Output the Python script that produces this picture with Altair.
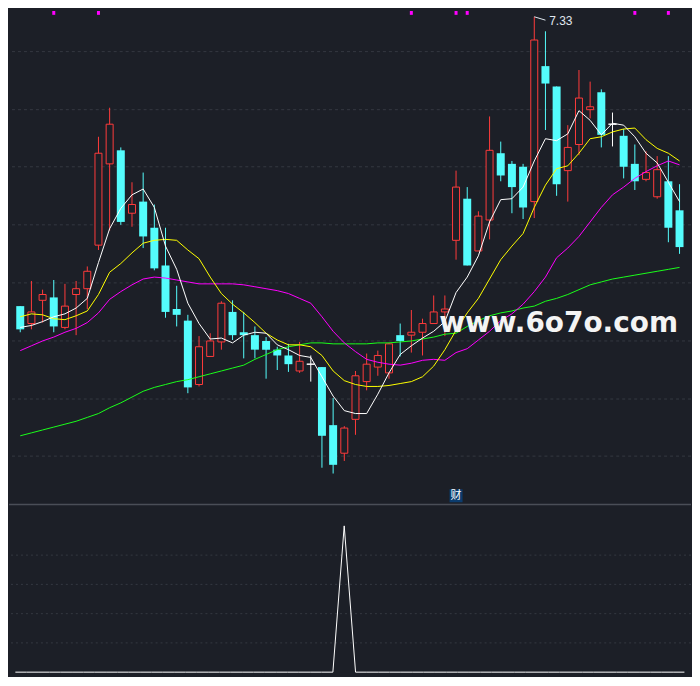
import altair as alt
import numpy as np
import pandas as pd

# ---------------- data ----------------
idx = list(range(1, 61))
open_ = [4.34, 4.16, 4.40, 4.43, 4.12, 4.46, 4.52, 4.97, 5.81, 5.95,
         5.30, 5.42, 5.15, 4.76, 4.31, 4.19, 3.53, 3.82, 3.97, 4.28,
         4.07, 4.04, 3.98, 3.89, 3.83, 3.67, 3.74, 3.71, 3.11, 2.82,
         3.17, 3.56, 3.71, 3.65, 4.04, 4.04, 4.07, 4.16, 4.28, 5.02,
         5.45, 4.91, 5.23, 5.92, 5.81, 5.78, 5.42, 6.82, 6.61, 5.74,
         6.01, 6.37, 6.55, 6.22, 6.10, 5.81, 5.65, 5.47, 5.63, 5.33]
high = [4.34, 4.60, 4.51, 4.61, 4.57, 4.60, 4.75, 6.09, 6.39, 5.98,
        5.62, 5.72, 5.39, 5.15, 4.55, 4.25, 4.03, 4.06, 4.39, 4.40,
        4.28, 4.13, 4.02, 3.92, 3.95, 3.97, 3.83, 3.71, 3.39, 3.10,
        3.67, 3.85, 3.88, 3.96, 4.16, 4.30, 4.21, 4.45, 4.45, 5.74,
        5.57, 5.32, 6.30, 6.04, 5.84, 5.81, 7.33, 7.18, 6.61, 6.21,
        6.78, 6.66, 6.58, 6.34, 6.17, 6.01, 5.94, 5.89, 5.89, 5.60]
low = [4.07, 4.10, 4.17, 4.07, 4.10, 4.04, 4.31, 4.92, 5.12, 5.18,
       5.16, 4.94, 4.71, 4.22, 4.13, 3.44, 3.51, 3.82, 3.89, 3.99,
       3.80, 3.80, 3.59, 3.68, 3.66, 3.65, 3.56, 2.67, 2.61, 2.74,
       3.01, 3.47, 3.62, 3.59, 3.82, 3.86, 3.83, 4.16, 4.03, 4.82,
       4.76, 4.91, 5.03, 5.63, 5.30, 5.24, 5.25, 6.16, 5.48, 5.42,
       5.90, 6.28, 5.98, 5.99, 5.66, 5.54, 5.63, 5.45, 5.00, 4.88]
close = [4.10, 4.28, 4.46, 4.13, 4.34, 4.52, 4.70, 5.92, 6.22, 5.21,
         5.39, 5.06, 4.73, 4.28, 4.25, 3.50, 3.92, 3.98, 4.37, 4.04,
         4.04, 3.89, 3.89, 3.83, 3.74, 3.77, 3.74, 3.00, 2.70, 3.08,
         3.62, 3.74, 3.83, 3.95, 3.98, 4.07, 4.16, 4.28, 4.31, 5.57,
         4.76, 5.27, 5.95, 5.69, 5.57, 5.36, 7.09, 6.64, 5.60, 5.98,
         6.49, 6.40, 6.11, 6.22, 5.78, 5.63, 5.72, 5.75, 5.15, 4.95]

ma5 = [4.12, 4.14, 4.18, 4.23, 4.26, 4.32, 4.42, 4.79, 5.14, 5.35,
       5.49, 5.55, 5.36, 4.96, 4.72, 4.37, 4.16, 4.00, 4.01, 3.96,
       4.04, 4.07, 4.06, 3.94, 3.89, 3.83, 3.81, 3.61, 3.41, 3.26,
       3.23, 3.23, 3.43, 3.65, 3.84, 3.93, 4.01, 4.08, 4.18, 4.48,
       4.64, 4.86, 5.21, 5.44, 5.45, 5.57, 5.84, 6.07, 6.05, 6.12,
       6.36, 6.26, 6.11, 6.23, 6.21, 6.09, 5.92, 5.82, 5.62, 5.42]
ma10 = [4.23, 4.26, 4.25, 4.21, 4.20, 4.24, 4.29, 4.46, 4.69, 4.78,
        4.89, 4.99, 5.02, 5.03, 5.02, 4.92, 4.83, 4.64, 4.47, 4.36,
        4.27, 4.17, 4.06, 3.99, 3.94, 3.94, 3.92, 3.83, 3.67, 3.57,
        3.53, 3.51, 3.51, 3.52, 3.54, 3.56, 3.61, 3.72, 3.89, 4.09,
        4.27, 4.42, 4.62, 4.82, 4.96, 5.09, 5.36, 5.59, 5.76, 5.79,
        5.92, 6.07, 6.09, 6.14, 6.17, 6.18, 6.06, 5.97, 5.92, 5.84]
ma20 = [3.88, 3.93, 3.98, 4.02, 4.07, 4.11, 4.17, 4.27, 4.41, 4.49,
        4.56, 4.62, 4.64, 4.63, 4.61, 4.59, 4.57, 4.57, 4.57, 4.57,
        4.56, 4.54, 4.52, 4.50, 4.47, 4.42, 4.37, 4.23, 4.08, 3.96,
        3.87, 3.79, 3.76, 3.74, 3.73, 3.75, 3.78, 3.79, 3.78, 3.86,
        3.90, 3.99, 4.08, 4.19, 4.26, 4.36, 4.49, 4.64, 4.84, 4.94,
        5.06, 5.21, 5.36, 5.49, 5.57, 5.66, 5.73, 5.79, 5.84, 5.80]
ma60 = [3.00, 3.03, 3.06, 3.09, 3.12, 3.15, 3.19, 3.23, 3.29, 3.34,
        3.40, 3.46, 3.50, 3.53, 3.56, 3.58, 3.61, 3.64, 3.67, 3.70,
        3.73, 3.79, 3.84, 3.89, 3.92, 3.94, 3.96, 3.96, 3.95, 3.95,
        3.95, 3.95, 3.96, 3.96, 3.97, 3.98, 4.00, 4.02, 4.05, 4.06,
        4.13, 4.19, 4.24, 4.27, 4.29, 4.32, 4.34, 4.39, 4.42, 4.46,
        4.51, 4.56, 4.59, 4.62, 4.64, 4.66, 4.68, 4.70, 4.72, 4.74]

signal = [0] * 29 + [100] + [0] * 30          # lower-panel indicator
top_markers = [4, 8, 36, 40, 41, 56, 59]       # magenta marks on top edge
main_grid = [6.97, 6.37, 5.78, 5.18, 4.58, 3.98, 3.38, 2.79]
sub_grid = [20, 40, 60, 80]
peak_idx, peak_val, peak_label = 47, 7.33, "7.33"
cai_idx, cai_val, cai_label = 40, 2.38, "财"
wm_idx, wm_val, wm_text = 38.5, 4.07, "www.6o7o.com"

# ---------------- style ----------------
BG = "#1c1f27"
RED = "#ff3b3b"
CYAN = "#54fcfc"
GRID = "#343841"
W, H_MAIN, H_SUB = 684, 494, 172
X_DOM = [0.44, 60.58]
Y_DOM = [2.30, 7.39]
S_DOM = [-2.65, 114.6]

df = pd.DataFrame(dict(idx=idx, open=open_, high=high, low=low, close=close,
                       ma5=ma5, ma10=ma10, ma20=ma20, ma60=ma60, signal=signal))
df["dir"] = np.where(df.close > df.open, "up", np.where(df.close < df.open, "down", "flat"))
df["top"] = df[["open", "close"]].max(axis=1)
df["bot"] = df[["open", "close"]].min(axis=1)

xs = alt.Scale(domain=X_DOM, nice=False, zero=False)
ys = alt.Scale(domain=Y_DOM, nice=False, zero=False)
X = alt.X("idx:Q", scale=xs, axis=None)

base = alt.Chart(df)

grid_main = alt.Chart(pd.DataFrame({"g": main_grid})).mark_rule(
    color=GRID, strokeDash=[3, 3], strokeWidth=1
).encode(y=alt.Y("g:Q", scale=ys, axis=None))

wick_col = alt.Color("dir:N", scale=alt.Scale(domain=["up", "down", "flat"],
                                              range=[RED, CYAN, "#ffffff"]), legend=None)
wicks = base.mark_rule(strokeWidth=1).encode(
    x=X, y=alt.Y("high:Q", scale=ys, axis=None), y2="low:Q", color=wick_col)

down_bodies = base.transform_filter(alt.datum.dir == "down").mark_bar(
    size=8, color=CYAN).encode(x=X, y=alt.Y("top:Q", scale=ys, axis=None), y2="bot:Q")
up_bodies = base.transform_filter(alt.datum.dir == "up").mark_bar(
    size=7, fill=BG, stroke=RED, strokeWidth=1).encode(
    x=X, y=alt.Y("top:Q", scale=ys, axis=None), y2="bot:Q")
flat_bodies = base.transform_filter(alt.datum.dir == "flat").mark_bar(
    size=8, fill="#ffffff", stroke="#ffffff", strokeWidth=1).encode(
    x=X, y=alt.Y("top:Q", scale=ys, axis=None), y2="bot:Q")


def ma_line(field, color):
    return base.mark_line(color=color, strokeWidth=1).encode(
        x=X, y=alt.Y(f"{field}:Q", scale=ys, axis=None))


lines = [ma_line("ma60", "#1aff1a"), ma_line("ma20", "#ff00ff"),
         ma_line("ma10", "#ffff00"), ma_line("ma5", "#ffffff")]

markers = alt.Chart(pd.DataFrame({"idx": top_markers, "a": Y_DOM[1], "b": Y_DOM[1] - 0.04})).mark_rule(
    color="#ff00ff", strokeWidth=3).encode(x=X, y=alt.Y("a:Q", scale=ys, axis=None), y2="b:Q")

ann = pd.DataFrame({"idx": [peak_idx], "v": [peak_val], "idx2": [peak_idx + 1.0],
                    "v2": [peak_val - 0.035], "t": [peak_label]})
leader = alt.Chart(ann).mark_rule(color="#e0e8f0", strokeWidth=1).encode(
    x=X, x2="idx2:Q", y=alt.Y("v:Q", scale=ys, axis=None), y2="v2:Q")
peak_text = alt.Chart(ann).mark_text(
    align="left", baseline="middle", dx=15, dy=4, fontSize=12,
    font="Liberation Sans", color="#e0e8f0").encode(
    x=X, y=alt.Y("v:Q", scale=ys, axis=None), text="t:N")

cai = pd.DataFrame({"idx": [cai_idx], "v": [cai_val], "t": [cai_label]})
cai_box = alt.Chart(cai).mark_square(size=170, color="#0b3c6e", opacity=1).encode(
    x=X, y=alt.Y("v:Q", scale=ys, axis=None))
cai_text = alt.Chart(cai).mark_text(
    fontSize=11, font="Noto Sans CJK SC", color="#ffffff", baseline="middle", align="center").encode(
    x=X, y=alt.Y("v:Q", scale=ys, axis=None), text="t:N")

wm = pd.DataFrame({"idx": [wm_idx], "v": [wm_val], "t": [wm_text]})
watermark = alt.Chart(wm).mark_text(
    align="left", baseline="alphabetic", fontSize=28, fontWeight="bold",
    font="DejaVu Sans", color="#f4f4f4").encode(
    x=X, y=alt.Y("v:Q", scale=ys, axis=None), text="t:N")

main = alt.layer(grid_main, wicks, down_bodies, up_bodies, flat_bodies, *lines,
                 markers, leader, peak_text, cai_box, cai_text, watermark).properties(
    width=W, height=H_MAIN)

# ---------------- lower panel ----------------
ss = alt.Scale(domain=S_DOM, nice=False, zero=False)
grid_sub = alt.Chart(pd.DataFrame({"g": sub_grid})).mark_rule(
    color=GRID, strokeDash=[2, 3], strokeWidth=1).encode(y=alt.Y("g:Q", scale=ss, axis=None))
sep = alt.Chart(pd.DataFrame({"s": [S_DOM[1]]})).mark_rule(
    color="#4a4e57", strokeWidth=1.5).encode(y=alt.Y("s:Q", scale=ss, axis=None))
sig_line = base.mark_line(color="#ffffff", strokeWidth=1).encode(
    x=X, y=alt.Y("signal:Q", scale=ss, axis=None))
sub = alt.layer(grid_sub, sep, sig_line).properties(width=W, height=H_SUB)

chart = alt.vconcat(main, sub, spacing=0).properties(
    padding=0, background=BG
).configure_view(strokeWidth=0)

chart.save("out.html", embed_options={"renderer": "svg", "actions": False})
